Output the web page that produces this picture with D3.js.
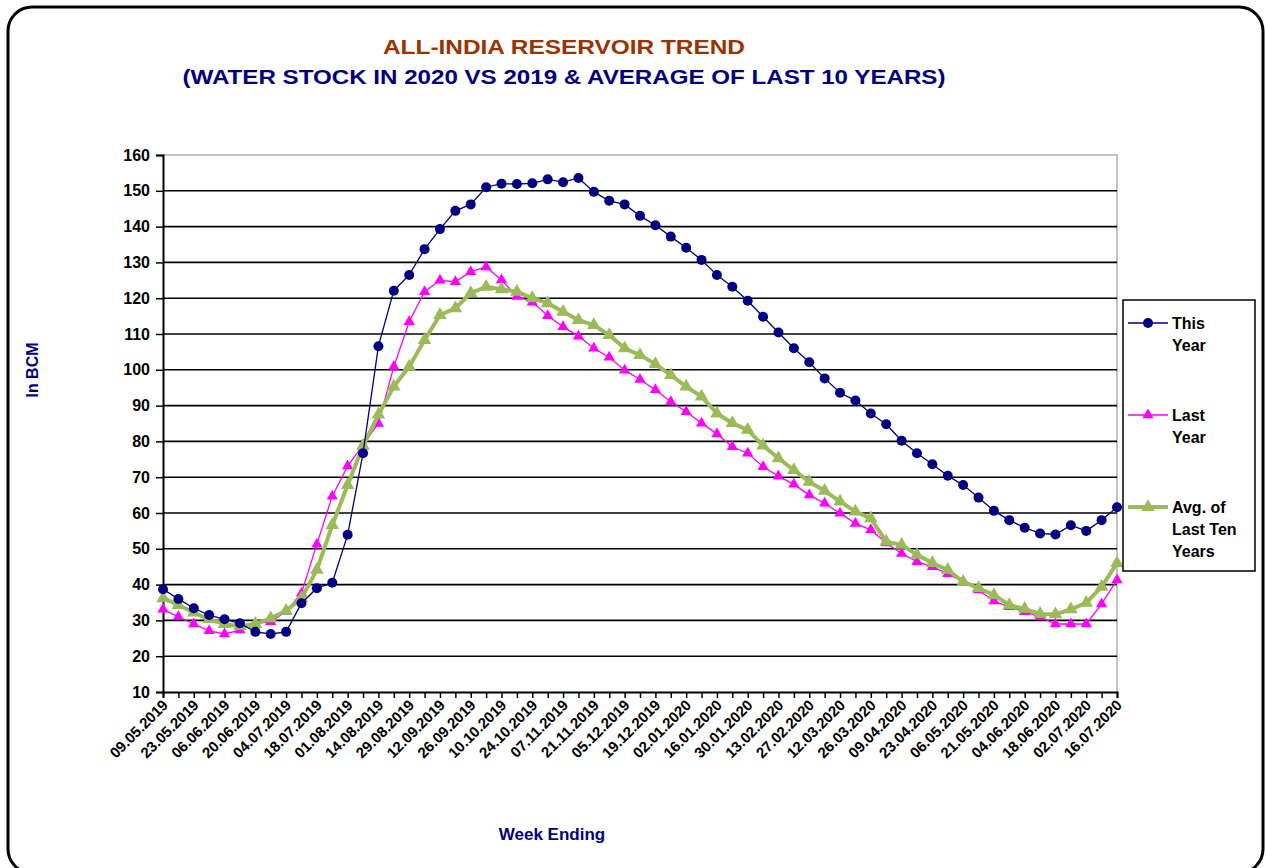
<!DOCTYPE html>
<html>
<head>
<meta charset="utf-8">
<script src="https://cdn.jsdelivr.net/npm/d3@7"></script>
<style>
  body { margin: 0; background: #fff; }
  text { font-family: "Liberation Sans", Arial, sans-serif; }
</style>
</head>
<body>
<div id="chart"></div>
<script>
// week-ending dates (every week; labels shown on every other one)
const weeks = [
  "09.05.2019","16.05.2019","23.05.2019","30.05.2019","06.06.2019","13.06.2019","20.06.2019","27.06.2019",
  "04.07.2019","11.07.2019","18.07.2019","25.07.2019","01.08.2019","08.08.2019","14.08.2019","22.08.2019",
  "29.08.2019","05.09.2019","12.09.2019","19.09.2019","26.09.2019","03.10.2019","10.10.2019","17.10.2019",
  "24.10.2019","31.10.2019","07.11.2019","14.11.2019","21.11.2019","28.11.2019","05.12.2019","12.12.2019",
  "19.12.2019","26.12.2019","02.01.2020","09.01.2020","16.01.2020","23.01.2020","30.01.2020","06.02.2020",
  "13.02.2020","20.02.2020","27.02.2020","05.03.2020","12.03.2020","19.03.2020","26.03.2020","02.04.2020",
  "09.04.2020","16.04.2020","23.04.2020","30.04.2020","06.05.2020","14.05.2020","21.05.2020","28.05.2020",
  "04.06.2020","11.06.2020","18.06.2020","25.06.2020","02.07.2020","09.07.2020","16.07.2020"
];

const thisYear = [
  38.7, 36.0, 33.4, 31.5, 30.3, 29.2, 26.8, 26.2, 26.8, 34.8, 39.0, 40.5, 53.9, 76.7, 106.6, 122.1,
  126.5, 133.7, 139.3, 144.4, 146.2, 151.0, 152.0, 151.9, 152.1, 153.2, 152.4, 153.6, 149.7, 147.2, 146.2, 143.0,
  140.4, 137.2, 134.1, 130.7, 126.5, 123.2, 119.3, 114.8, 110.4, 106.0, 102.1, 97.6, 93.6, 91.4, 87.8, 84.8,
  80.2, 76.7, 73.6, 70.4, 67.8, 64.3, 60.6, 58.0, 55.9, 54.3, 54.0, 56.6, 55.0, 58.0, 61.6
];

const lastYear = [
  33.1, 31.0, 29.0, 27.1, 26.2, 27.3, 29.2, 29.6, 32.5, 37.6, 51.3, 64.7, 73.1, 79.0, 85.0, 100.9,
  113.4, 121.8, 125.0, 124.6, 127.4, 128.7, 125.1, 120.5, 118.9, 115.1, 112.0, 109.4, 106.0, 103.5, 99.9, 97.3,
  94.4, 91.1, 88.3, 85.1, 82.1, 78.5, 76.7, 72.9, 70.3, 68.0, 65.0, 62.7, 59.9, 57.1, 55.3, 51.6,
  48.7, 46.4, 45.0, 43.0, 40.8, 38.5, 35.4, 33.8, 32.4, 31.0, 29.0, 29.0, 29.0, 34.6, 41.3
];

const avgTen = [
  36.2, 34.3, 32.2, 30.3, 29.0, 28.4, 29.0, 30.6, 32.7, 36.2, 44.1, 56.6, 67.8, 78.7, 87.5, 95.3,
  100.9, 108.3, 115.3, 117.2, 121.4, 123.2, 122.5, 121.8, 120.0, 118.6, 116.2, 113.9, 112.5, 109.7, 106.0, 104.1,
  101.6, 98.5, 95.3, 92.5, 87.8, 85.1, 83.2, 78.8, 75.3, 72.0, 68.7, 66.2, 63.2, 60.4, 58.5, 52.0,
  51.1, 48.3, 46.0, 44.1, 40.8, 39.0, 37.1, 34.3, 33.2, 31.8, 31.7, 33.1, 34.9, 39.4, 46.0
];

const yTicks = [10, 20, 30, 40, 50, 60, 70, 80, 90, 100, 110, 120, 130, 140, 150, 160];

const W = 1266, H = 868;
const margin = { top: 155, right: 149, bottom: 176, left: 163 };

const svg = d3.select("#chart").append("svg")
  .attr("width", W).attr("height", H);

// outer frame
svg.append("rect")
  .attr("x", 8).attr("y", 7)
  .attr("width", 1255).attr("height", 866)
  .attr("rx", 24).attr("ry", 24)
  .attr("fill", "#fff").attr("stroke", "#000").attr("stroke-width", 3);

// titles
svg.append("text")
  .attr("x", 564).attr("y", 54)
  .attr("text-anchor", "middle")
  .attr("textLength", 362).attr("lengthAdjust", "spacingAndGlyphs")
  .style("font-size", "21px").style("font-weight", "bold")
  .attr("fill", "#993300")
  .text("ALL-INDIA RESERVOIR TREND");
svg.append("text")
  .attr("x", 564).attr("y", 84)
  .attr("text-anchor", "middle")
  .attr("textLength", 763).attr("lengthAdjust", "spacingAndGlyphs")
  .style("font-size", "21px").style("font-weight", "bold")
  .attr("fill", "#000080")
  .text("(WATER STOCK IN 2020 VS 2019 & AVERAGE OF LAST 10 YEARS)");

const x = d3.scalePoint()
  .domain(weeks)
  .range([margin.left, W - margin.right - 0]);

const y = d3.scaleLinear()
  .domain([10, 160])
  .range([H - margin.bottom - 0, margin.top]);

const x0 = margin.left, x1 = x(weeks[weeks.length - 1]);
const yb = y(10), yt = y(160);

// plot border (grey) top and right
svg.append("path")
  .attr("d", `M${x0},${yt}H${x1}V${yb}`)
  .attr("fill", "none").attr("stroke", "#b0b0b0").attr("stroke-width", 1.5);

// horizontal gridlines
svg.append("g")
  .selectAll("line")
  .data(yTicks.filter(d => d > 10 && d < 160))
  .join("line")
  .attr("x1", x0).attr("x2", x1)
  .attr("y1", d => y(d)).attr("y2", d => y(d))
  .attr("stroke", "#000").attr("stroke-width", 1.6);

// y axis
const yAxis = svg.append("g")
  .attr("transform", `translate(${x0},0)`)
  .call(d3.axisLeft(y).tickValues(yTicks).tickSize(7).tickPadding(6));
yAxis.select(".domain").attr("stroke", "#000").attr("stroke-width", 2);
yAxis.selectAll(".tick line").attr("stroke", "#000").attr("stroke-width", 1.5);
yAxis.selectAll("text")
  .style("font-size", "16px").style("font-weight", "bold")
  .style("font-family", "'Liberation Sans', Arial, sans-serif")
  .attr("fill", "#000");

// x axis
const xAxis = svg.append("g")
  .attr("transform", `translate(0,${yb})`)
  .call(d3.axisBottom(x).tickSize(6).tickFormat(""));
xAxis.select(".domain").attr("stroke", "#000").attr("stroke-width", 2);
xAxis.selectAll(".tick line").attr("stroke", "#000").attr("stroke-width", 1.5);

// rotated date labels, every other week
svg.append("g")
  .selectAll("text")
  .data(weeks.filter((d, i) => i % 2 === 0))
  .join("text")
  .attr("transform", d => `translate(${x(d) + 6},${yb + 14}) rotate(-45)`)
  .attr("text-anchor", "end")
  .style("font-size", "15px").style("font-weight", "bold")
  .attr("fill", "#000")
  .text(d => d);

// axis titles
svg.append("text")
  .attr("transform", `translate(38,370) rotate(-90)`)
  .attr("text-anchor", "middle")
  .style("font-size", "16px").style("font-weight", "bold")
  .attr("fill", "#000080")
  .text("In BCM");
svg.append("text")
  .attr("x", 552).attr("y", 840)
  .attr("text-anchor", "middle")
  .style("font-size", "17px").style("font-weight", "bold")
  .attr("fill", "#000080")
  .text("Week Ending");

const line = d3.line()
  .x((d, i) => x(weeks[i]))
  .y(d => y(d));

const tri = d3.symbol().type(d3.symbolTriangle);

// last year (pink)
svg.append("path")
  .datum(lastYear)
  .attr("d", line)
  .attr("fill", "none").attr("stroke", "#FF00FF").attr("stroke-width", 1.3);
svg.append("g")
  .selectAll("path")
  .data(lastYear)
  .join("path")
  .attr("transform", (d, i) => `translate(${x(weeks[i])},${y(d)})`)
  .attr("d", tri.size(55))
  .attr("fill", "#FF00FF");

// average of last ten years (green)
svg.append("path")
  .datum(avgTen)
  .attr("d", line)
  .attr("fill", "none").attr("stroke", "#9BBB59").attr("stroke-width", 4);
svg.append("g")
  .selectAll("path")
  .data(avgTen)
  .join("path")
  .attr("transform", (d, i) => `translate(${x(weeks[i])},${y(d)})`)
  .attr("d", tri.size(80))
  .attr("fill", "#9BBB59");

// this year (navy)
svg.append("path")
  .datum(thisYear)
  .attr("d", line)
  .attr("fill", "none").attr("stroke", "#000080").attr("stroke-width", 1.3);
svg.append("g")
  .selectAll("circle")
  .data(thisYear)
  .join("circle")
  .attr("cx", (d, i) => x(weeks[i]))
  .attr("cy", d => y(d))
  .attr("r", 5)
  .attr("fill", "#000080");

// legend
const legend = svg.append("g");
legend.append("rect")
  .attr("x", 1123).attr("y", 300)
  .attr("width", 132).attr("height", 271)
  .attr("fill", "#fff").attr("stroke", "#000").attr("stroke-width", 1.5);

const legendItems = [
  { lines: ["This", "Year"], color: "#000080", width: 1.3, marker: "circle", y: 323 },
  { lines: ["Last", "Year"], color: "#FF00FF", width: 1.3, marker: "tri", size: 55, y: 415 },
  { lines: ["Avg. of", "Last Ten", "Years"], color: "#9BBB59", width: 4, marker: "tri", size: 80, y: 507 }
];

legendItems.forEach(item => {
  const g = legend.append("g");
  g.append("line")
    .attr("x1", 1128).attr("x2", 1168)
    .attr("y1", item.y).attr("y2", item.y)
    .attr("stroke", item.color).attr("stroke-width", item.width);
  if (item.marker === "circle") {
    g.append("circle").attr("cx", 1148).attr("cy", item.y).attr("r", 5).attr("fill", item.color);
  } else {
    g.append("path")
      .attr("transform", `translate(1148,${item.y})`)
      .attr("d", d3.symbol().type(d3.symbolTriangle).size(item.size)())
      .attr("fill", item.color);
  }
  item.lines.forEach((t, k) => {
    g.append("text")
      .attr("x", 1172).attr("y", item.y + 6 + k * 22)
      .style("font-size", "16px").style("font-weight", "bold")
      .attr("fill", "#000")
      .text(t);
  });
});
</script>
</body>
</html>
